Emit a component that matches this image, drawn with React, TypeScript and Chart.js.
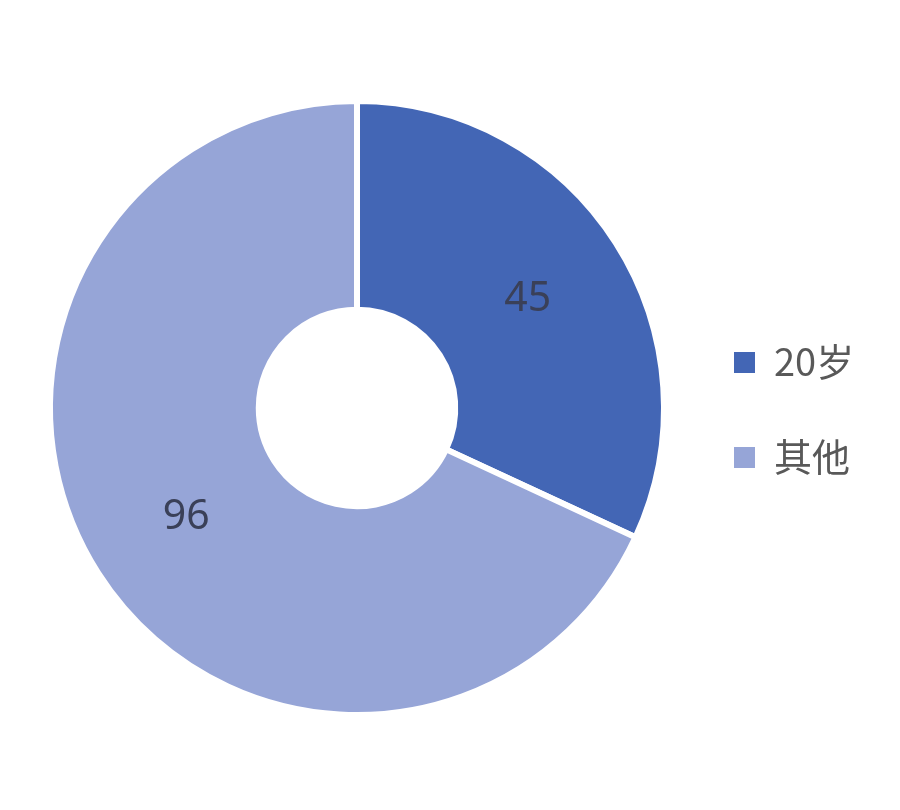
import React, { useEffect, useRef } from "react";
import { Chart, registerables } from "chart.js";

Chart.register(...registerables);

const categories = ["20岁", "其他"];
const counts = [45, 96];
const sliceColors = ["#4366B5", "#96A5D7"];

// Draws each slice's value at its arc centroid
const valueLabels = {
  id: "valueLabels",
  afterDatasetsDraw(chart: any) {
    const { ctx } = chart;
    const meta = chart.getDatasetMeta(0);
    ctx.save();
    ctx.font = '41px "Noto Sans", "DejaVu Sans", sans-serif';
    ctx.fillStyle = "#3a4058";
    ctx.textAlign = "center";
    ctx.textBaseline = "middle";
    meta.data.forEach((arc: any, i: number) => {
      const p = arc.tooltipPosition();
      ctx.fillText(String(chart.data.datasets[0].data[i]), p.x, p.y);
    });
    ctx.restore();
  },
};

// Legend on the right, square markers
const sideLegend = {
  id: "sideLegend",
  afterDraw(chart: any) {
    const { ctx } = chart;
    const x = 734;
    const ys = [362, 457];
    ctx.save();
    ctx.font = '38px "Noto Sans CJK SC", sans-serif';
    ctx.textBaseline = "middle";
    ctx.textAlign = "left";
    categories.forEach((name, i) => {
      ctx.fillStyle = sliceColors[i];
      ctx.fillRect(x, ys[i] - 10, 21, 21);
      ctx.fillStyle = "#595959";
      ctx.fillText(name, x + 40, ys[i]);
    });
    ctx.restore();
  },
};

export default function App() {
  const ref = useRef<HTMLCanvasElement>(null);
  useEffect(() => {
    if (!ref.current) return;
    const chart = new Chart(ref.current, {
      type: "doughnut",
      data: {
        labels: categories,
        datasets: [
          {
            data: counts,
            backgroundColor: sliceColors,
            borderColor: "#ffffff",
            borderWidth: 6,
          },
        ],
      },
      options: {
        responsive: false,
        animation: false,
        cutout: "32%",
        layout: { padding: { left: 47, top: 98, right: 233, bottom: 92 } },
        plugins: {
          legend: { display: false },
          tooltip: { enabled: false },
        },
      },
      plugins: [valueLabels, sideLegend],
    });
    return () => chart.destroy();
  }, []);
  return (
    <div style={{ position: "fixed", left: 0, top: 0, width: 900, height: 810, background: "#ffffff" }}>
      <canvas ref={ref} width={900} height={810} style={{ width: 900, height: 810 }} />
    </div>
  );
}
